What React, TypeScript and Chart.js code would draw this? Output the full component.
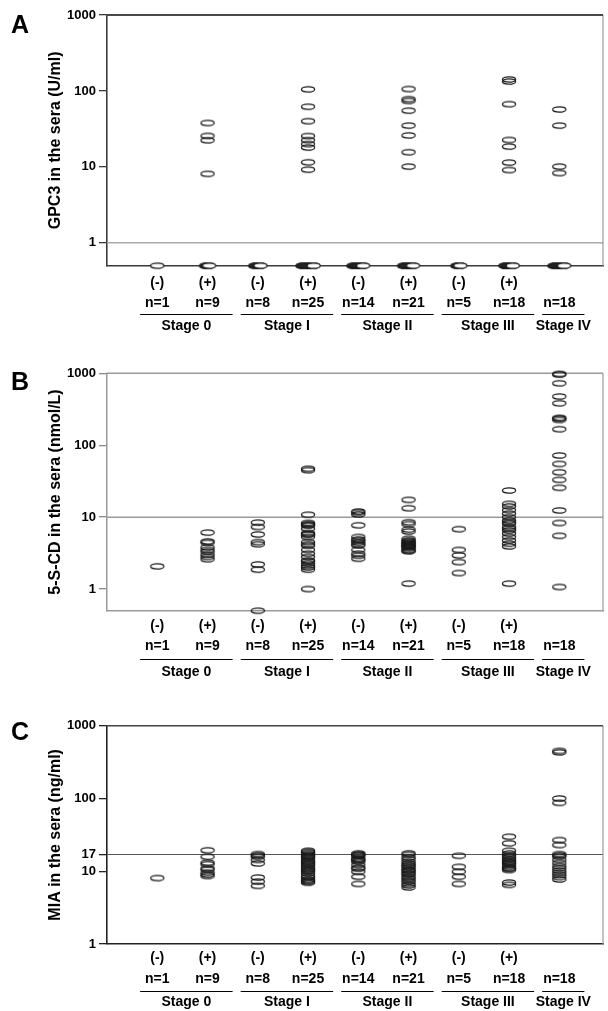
import React, { useEffect, useRef } from "react";
import { Chart, registerables } from "chart.js";

Chart.register(...registerables);

// ---------- categories ----------
const groupSigns = ["(-)", "(+)", "(-)", "(+)", "(-)", "(+)", "(-)", "(+)", ""];
const groupCounts = ["n=1", "n=9", "n=8", "n=25", "n=14", "n=21", "n=5", "n=18", "n=18"];
const groupPositions = [1, 2, 3, 4, 5, 6, 7, 8, 9];
const stageNames = ["Stage 0", "Stage I", "Stage II", "Stage III", "Stage IV"];
const stageFirstGroup = [1, 3, 5, 7, 9];
const stageLastGroup = [2, 4, 6, 8, 9];

// ---------- Panel A: GPC3 (U/ml) ----------
const gpc3Stage0Neg: number[] = [];
const gpc3Stage0Pos = [37.9, 25.6, 22.4, 8.1];
const gpc3Stage1Neg: number[] = [];
const gpc3Stage1Pos = [105, 62, 40, 25.5, 22.5, 20, 18, 11.5, 9.2];
const gpc3Stage2Neg: number[] = [];
const gpc3Stage2Pos = [106, 78, 74, 55, 35, 26, 15.6, 10.1];
const gpc3Stage3Neg: number[] = [];
const gpc3Stage3Pos = [142, 133, 67, 22.6, 18.5, 11.4, 9.1];
const gpc3Stage4 = [57, 35, 10.1, 8.3];
// number of sera below detection per group (plotted on the axis)
const gpc3BelowDetection = [1, 5, 8, 16, 14, 13, 5, 11, 14];
const gpc3Ticks = [1, 10, 100, 1000];

// ---------- Panel B: 5-S-CD (nmol/L) ----------
const scdStage0Neg = [2.07];
const scdStage0Pos = [6.1, 4.6, 4.4, 3.8, 3.5, 3.3, 3.0, 2.8, 2.6];
const scdStage1Neg = [8.4, 7.3, 5.75, 4.5, 4.2, 2.2, 1.86, 0.5];
const scdStage1Pos = [47, 45, 10.8, 8.3, 8.0, 7.8, 7.6, 6.9, 6.0, 5.8, 5.7, 5.3, 4.5, 4.2, 4.0, 3.5, 3.1, 2.8, 2.5, 2.4, 2.25, 2.1, 2.0, 1.86, 1.0];
const scdStage2Neg = [12.0, 11.5, 10.9, 7.7, 5.3, 4.9, 4.7, 4.45, 4.2, 4.05, 3.5, 3.1, 2.9, 2.64];
const scdStage2Pos = [17.4, 13.3, 8.5, 8.0, 6.7, 6.3, 5.0, 4.75, 4.6, 4.45, 4.3, 4.2, 4.1, 4.0, 3.9, 3.83, 3.7, 3.5, 3.4, 3.37, 1.19];
const scdStage3Neg = [6.8, 3.5, 2.94, 2.37, 1.67];
const scdStage3Pos = [23.5, 15.3, 14.1, 12.5, 11.2, 10, 9.0, 8.5, 8.1, 7.3, 6.9, 6.5, 5.9, 5.3, 4.75, 4.27, 3.92, 1.19];
const scdStage4 = [980, 959, 726, 475, 383, 240, 235, 225, 167, 72, 55, 42, 33, 25.6, 12.4, 8.3, 5.5, 1.07];
const scdTicks = [1, 10, 100, 1000];

// ---------- Panel C: MIA (ng/ml) ----------
const miaStage0Neg = [8.07];
const miaStage0Pos = [19.4, 15.8, 13.1, 12.5, 11.0, 10.5, 9.55, 9.0, 8.6];
const miaStage1Neg = [17.2, 16.5, 15.8, 14.3, 12.8, 8.2, 7.2, 6.3];
const miaStage1Pos = [19.1, 18.5, 17.8, 17.2, 16.5, 16.0, 15.5, 14.8, 14.0, 13.5, 13.0, 12.6, 12.2, 11.5, 11.0, 10.5, 10.2, 9.85, 9.3, 8.6, 8.2, 7.7, 7.4, 7.2, 6.95];
const miaStage2Neg = [17.6, 17.0, 16.6, 16.2, 15.0, 14.5, 14.0, 13.5, 12.2, 11.2, 10.8, 9.85, 8.4, 6.7];
const miaStage2Pos = [17.6, 16.8, 15.5, 14.6, 13.5, 12.8, 12.2, 11.8, 11.2, 10.6, 10.2, 9.8, 9.35, 9.0, 8.4, 8.0, 7.57, 7.2, 6.7, 6.4, 6.0];
const miaStage3Neg = [16.3, 11.5, 9.85, 8.4, 6.7];
const miaStage3Pos = [29.8, 24.2, 19.1, 17.5, 16.5, 15.8, 14.8, 14.3, 13.6, 13.1, 12.8, 12.2, 11.5, 11.0, 10.8, 10.4, 7.0, 6.5];
const miaStage4 = [450, 430, 100, 87, 26.8, 22.9, 17.2, 16.5, 15.8, 14.3, 13.0, 11.8, 11.0, 10.2, 9.5, 8.9, 8.3, 7.7];
const miaTicks = [1, 10, 17, 100, 1000];

type PanelData = {
  letter: string;
  title: string;
  groups: number[][];
  below: number[] | null;
  yMin: number;
  yMax: number;
  yTicks: number[];
  cutoff: number;
};

const panels: PanelData[] = [
  {
    letter: "A",
    title: "GPC3 in the sera (U/ml)",
    groups: [gpc3Stage0Neg, gpc3Stage0Pos, gpc3Stage1Neg, gpc3Stage1Pos, gpc3Stage2Neg, gpc3Stage2Pos, gpc3Stage3Neg, gpc3Stage3Pos, gpc3Stage4],
    below: gpc3BelowDetection,
    yMin: 0.5,
    yMax: 1000,
    yTicks: gpc3Ticks,
    cutoff: 1,
  },
  {
    letter: "B",
    title: "5-S-CD in the sera (nmol/L)",
    groups: [scdStage0Neg, scdStage0Pos, scdStage1Neg, scdStage1Pos, scdStage2Neg, scdStage2Pos, scdStage3Neg, scdStage3Pos, scdStage4],
    below: null,
    yMin: 0.5,
    yMax: 1000,
    yTicks: scdTicks,
    cutoff: 10,
  },
  {
    letter: "C",
    title: "MIA in the sera (ng/ml)",
    groups: [miaStage0Neg, miaStage0Pos, miaStage1Neg, miaStage1Pos, miaStage2Neg, miaStage2Pos, miaStage3Neg, miaStage3Pos, miaStage4],
    below: null,
    yMin: 1,
    yMax: 1000,
    yTicks: miaTicks,
    cutoff: 17,
  },
];

type PanelStyle = {
  top: number;
  height: number;
  plotTop: number;
  plotBottom: number;
  letterBaseline: number;
  labelPad: number;
  lineH: number;
  underlineOffset: number;
  stageOffset: number;
  topColor: string;
  topWidth: number;
  leftColor: string;
  bottomColor: string;
  axisWidth: number;
  rightColor: string;
  refColor: string;
  refWidth: number;
  tickColor: string;
};

const styles: PanelStyle[] = [
  {
    top: 0, height: 335, plotTop: 15, plotBottom: 265.7, letterBaseline: 33,
    labelPad: 7, lineH: 20, underlineOffset: 48.5, stageOffset: 60,
    topColor: "#4a4a4a", topWidth: 2, leftColor: "#3a3a3a", bottomColor: "#3a3a3a", axisWidth: 1.6,
    rightColor: "#9a9a9a", refColor: "#a8a8a8", refWidth: 1.5, tickColor: "#3a3a3a",
  },
  {
    top: 335, height: 345, plotTop: 38.3, plotBottom: 275.7, letterBaseline: 55,
    labelPad: 5, lineH: 20.5, underlineOffset: 48.3, stageOffset: 61,
    topColor: "#9a9a9a", topWidth: 1.5, leftColor: "#9a9a9a", bottomColor: "#9a9a9a", axisWidth: 1.5,
    rightColor: "#9a9a9a", refColor: "#9a9a9a", refWidth: 1.5, tickColor: "#8a8a8a",
  },
  {
    top: 680, height: 331, plotTop: 45.7, plotBottom: 264, letterBaseline: 60,
    labelPad: 4, lineH: 20.5, underlineOffset: 47, stageOffset: 58,
    topColor: "#444444", topWidth: 1.6, leftColor: "#222222", bottomColor: "#222222", axisWidth: 1.6,
    rightColor: "#9a9a9a", refColor: "#555555", refWidth: 1.1, tickColor: "#222222",
  },
];

const X_MAX = 9.87;
const Y_AXIS_WIDTH = 107;
const FONT = "'Liberation Sans', Arial, Helvetica, sans-serif";

function makeEllipseImage(count: number, step: number, filled: boolean): HTMLCanvasElement {
  const rx = 6.6;
  const ry = 2.7;
  const w = Math.ceil(2 * rx + 3 + (count - 1) * step);
  const h = 9;
  const c = document.createElement("canvas");
  c.width = w % 2 === 0 ? w : w + 1;
  c.height = h;
  const ctx = c.getContext("2d")!;
  ctx.lineWidth = 1.2;
  ctx.strokeStyle = "#1a1a1a";
  ctx.fillStyle = "#ffffff";
  const startX = (c.width - (count - 1) * step) / 2;
  for (let k = 0; k < count; k++) {
    ctx.beginPath();
    ctx.ellipse(startX + k * step, h / 2, rx, ry, 0, 0, Math.PI * 2);
    if (filled) ctx.fill();
    ctx.stroke();
  }
  return c;
}

function buildChart(canvas: HTMLCanvasElement, p: PanelData, s: PanelStyle): Chart {
  const single = makeEllipseImage(1, 0, false);
  const blobCache: Record<number, HTMLCanvasElement> = {};
  const blobFor = (n: number) => {
    if (!blobCache[n]) blobCache[n] = makeEllipseImage(n, 0.75, true);
    return blobCache[n];
  };

  const pts: { x: number; y: number }[] = [];
  p.groups.forEach((vals, gi) => {
    vals.forEach((v) => pts.push({ x: groupPositions[gi], y: v }));
  });

  const datasets: any[] = [
    {
      label: "values",
      data: pts,
      pointStyle: single,
      radius: 3,
      clip: false,
    },
  ];
  if (p.below) {
    const belowPts: { x: number; y: number; n: number }[] = [];
    p.below.forEach((n, gi) => {
      if (n > 0) belowPts.push({ x: groupPositions[gi], y: p.yMin, n });
    });
    datasets.push({
      label: "below detection",
      data: belowPts,
      pointStyle: (ctx: any) => blobFor(ctx.raw ? ctx.raw.n : 1),
      radius: 3,
      clip: false,
    });
  }

  const framePlugin = {
    id: "frame" + p.letter,
    beforeDatasetsDraw(chart: any) {
      const { ctx, chartArea } = chart;
      const { left, right, top, bottom } = chartArea;
      const y = chart.scales.y;
      ctx.save();
      // cut-off line
      const yy = y.getPixelForValue(p.cutoff);
      ctx.strokeStyle = s.refColor;
      ctx.lineWidth = s.refWidth;
      ctx.beginPath();
      ctx.moveTo(left, yy);
      ctx.lineTo(right, yy);
      ctx.stroke();
      // right edge
      ctx.strokeStyle = s.rightColor;
      ctx.lineWidth = 1.2;
      ctx.beginPath();
      ctx.moveTo(right, top);
      ctx.lineTo(right, bottom);
      ctx.stroke();
      // top edge
      ctx.strokeStyle = s.topColor;
      ctx.lineWidth = s.topWidth;
      ctx.beginPath();
      ctx.moveTo(left - 0.8, top);
      ctx.lineTo(right, top);
      ctx.stroke();
      ctx.restore();
    },
    afterDraw(chart: any) {
      const { ctx, chartArea } = chart;
      const x = chart.scales.x;
      const sp = x.getPixelForValue(2) - x.getPixelForValue(1);
      ctx.save();
      ctx.fillStyle = "#000";
      ctx.strokeStyle = "#000";
      ctx.lineWidth = 1;
      ctx.font = `bold 14px ${FONT}`;
      ctx.textAlign = "center";
      ctx.textBaseline = "middle";
      const uy = chartArea.bottom + s.underlineOffset;
      stageNames.forEach((name, i) => {
        const x0 = x.getPixelForValue(stageFirstGroup[i]) - 0.34 * sp;
        const x1 = x.getPixelForValue(stageLastGroup[i]) + 0.5 * sp;
        ctx.beginPath();
        ctx.moveTo(x0, Math.round(uy) + 0.5);
        ctx.lineTo(x1, Math.round(uy) + 0.5);
        ctx.stroke();
        ctx.fillText(name, (x0 + x1) / 2, chartArea.bottom + s.stageOffset);
      });
      // panel letter
      ctx.textAlign = "left";
      ctx.textBaseline = "alphabetic";
      ctx.font = `bold 25px ${FONT}`;
      ctx.fillText(p.letter, 11, s.letterBaseline);
      ctx.restore();
    },
  };

  const titleSize = 16;
  const titleLineH = titleSize * 1.2;

  return new Chart(canvas, {
    type: "scatter",
    data: { datasets },
    options: {
      animation: false,
      responsive: false,
      maintainAspectRatio: false,
      events: [],
      layout: { padding: { top: s.plotTop, bottom: 0, left: 0, right: 1.5 } },
      plugins: { legend: { display: false }, tooltip: { enabled: false } },
      scales: {
        x: {
          type: "linear",
          min: 0,
          max: X_MAX,
          bounds: "data",
          afterBuildTicks: (axis: any) => {
            axis.ticks = groupPositions.map((v) => ({ value: v }));
          },
          afterFit: (scale: any) => {
            scale.height = s.height - s.plotBottom;
          },
          grid: { display: false, drawTicks: false },
          border: { display: true, color: s.bottomColor, width: s.axisWidth },
          ticks: {
            autoSkip: false,
            maxRotation: 0,
            minRotation: 0,
            padding: s.labelPad,
            color: "#000",
            font: { family: FONT, size: 14, weight: "bold", lineHeight: s.lineH / 14 },
            callback: (v: any) => {
              const i = groupPositions.indexOf(Math.round(Number(v)));
              return i >= 0 ? [groupSigns[i], groupCounts[i]] : "";
            },
          },
        },
        y: {
          type: "logarithmic",
          min: p.yMin,
          max: p.yMax,
          bounds: "data",
          afterBuildTicks: (axis: any) => {
            axis.ticks = p.yTicks.map((v) => ({ value: v }));
          },
          afterFit: (scale: any) => {
            scale.width = Y_AXIS_WIDTH;
          },
          grid: { display: true, drawOnChartArea: false, drawTicks: true, tickLength: 8, color: s.tickColor, lineWidth: 1.3 },
          border: { display: true, color: s.leftColor, width: s.axisWidth },
          ticks: {
            autoSkip: false,
            padding: 3,
            color: "#000",
            font: { family: FONT, size: 13, weight: "bold" },
            callback: (v: any) => String(v),
          },
          title: {
            display: true,
            text: p.title,
            color: "#000",
            font: { family: FONT, size: titleSize, weight: "bold", lineHeight: 1.2 },
            padding: { top: 56 - titleLineH / 2, bottom: 0 },
          },
        },
      },
    } as any,
    plugins: [framePlugin],
  });
}

function Panel({ index }: { index: number }) {
  const ref = useRef<HTMLCanvasElement | null>(null);
  const s = styles[index];
  useEffect(() => {
    if (!ref.current) return;
    const chart = buildChart(ref.current, panels[index], s);
    return () => chart.destroy();
  }, [index]);
  return (
    <canvas
      ref={ref}
      width={608}
      height={s.height}
      style={{ position: "absolute", left: 0, top: s.top, width: 608, height: s.height }}
    />
  );
}

export default function App() {
  return (
    <div style={{ position: "absolute", left: 0, top: 0, width: 608, height: 1011, background: "#fff", overflow: "hidden" }}>
      <Panel index={0} />
      <Panel index={1} />
      <Panel index={2} />
    </div>
  );
}
